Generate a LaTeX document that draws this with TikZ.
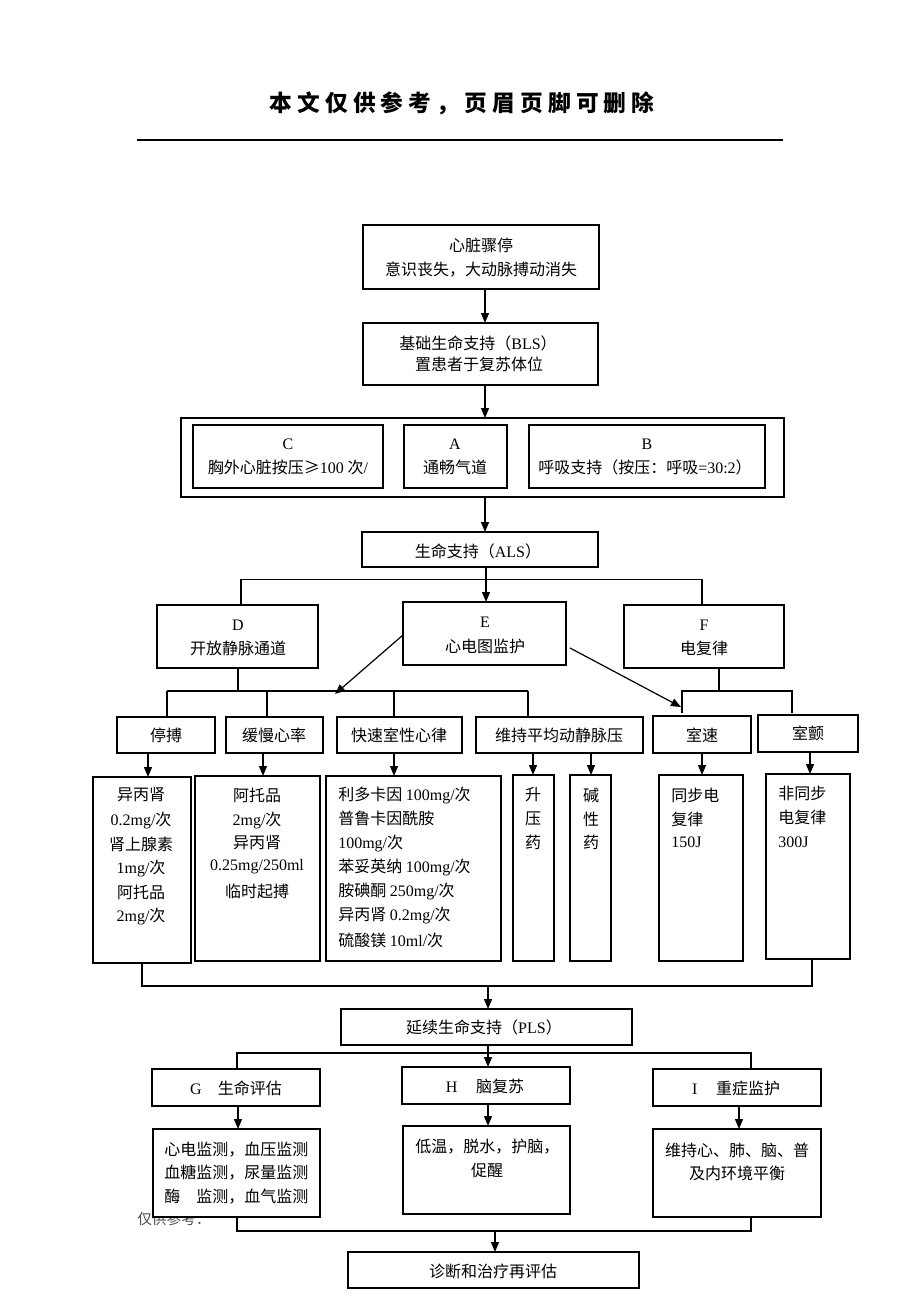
\documentclass[tikz,border=0pt]{standalone}
\usepackage{fontspec}
\setmainfont{Noto Sans CJK SC}
\newfontfamily\lat{Liberation Serif}
\newcommand\E[1]{{\lat #1}}
\usetikzlibrary{arrows.meta}
\tikzset{
 box/.style={draw, line width=0.9pt, fill=white, inner sep=0pt, outer sep=0pt},
 txt/.style={inner sep=0pt, font=\fontsize{12pt}{14pt}\selectfont},
 ltxt/.style={txt, anchor=west},
 ln/.style={line width=0.9pt},
 arr/.style={line width=0.9pt, -{Triangle[length=7.5pt,width=6pt]}},
}
\newcommand\mybox[5]{\node[box,minimum width={(#4-#2)*0.75pt},minimum height={(#5-#3)*0.75pt}] (#1) at ({(#2+#4)/2},{(#3+#5)/2}) {};}
\begin{document}
\begin{tikzpicture}[x=0.75pt,y=-0.75pt]
\useasboundingbox (0,0) rectangle (920,1302);
% header
\node[inner sep=0pt, font=\fontsize{17pt}{20pt}\selectfont\bfseries] (hdr) at (462,103) {\addfontfeature{LetterSpace=23}本文仅供参考，页眉页脚可删除};
\coordinate (rl) at (137,140); \coordinate (rr) at (783,140);
\draw[line width=1.1pt] (rl) -- (rr);
% top
\mybox{b1}{363}{225}{599}{289}
\node[txt] (b1a) at (481,245) {心脏骤停};
\node[txt] (b1b) at (481,270) {意识丧失，大动脉搏动消失};
\mybox{b2}{363}{323}{598}{385}
\node[txt] (b2a) at (478,343) {基础生命支持（\E{BLS}）};
\node[txt] (b2b) at (479,364) {置患者于复苏体位};
\coordinate (c485) at (485,0);
\draw[arr] (b1.south -| c485) -- (b2.north -| c485);
\mybox{o}{181}{418}{784}{497}
\draw[arr] (b2.south -| c485) -- (o.north -| c485);
\mybox{cb}{193}{425}{383}{488}
\node[txt] (cba) at (288,444) {\E{C}};
\node[txt] (cbb) at (288,467) {胸外心脏按压≥\E{100} 次\E{/}};
\mybox{ab}{404}{425}{507}{488}
\node[txt] (aba) at (455,444) {\E{A}};
\node[txt] (abb) at (455,467) {通畅气道};
\mybox{bb}{529}{425}{765}{488}
\node[txt] (bba) at (647,444) {\E{B}};
\node[txt] (bbb) at (645,467) {呼吸支持（按压：呼吸\E{=30:2}）};
\mybox{als}{362}{532}{598}{567}
\node[txt] (alst) at (478,551) {生命支持（\E{ALS}）};
\draw[arr] (o.south -| c485) -- (als.north -| c485);
% D E F
\mybox{d}{157}{605}{318}{668}
\node[txt] (da) at (238,625) {\E{D}};
\node[txt] (db) at (238,648) {开放静脉通道};
\mybox{e}{403}{602}{566}{665}
\node[txt] (ea1) at (485,622) {\E{E}};
\node[txt] (eb1) at (485,646) {心电图监护};
\mybox{f}{624}{605}{784}{668}
\node[txt] (fa) at (704,625) {\E{F}};
\node[txt] (fb1) at (704,648) {电复律};
\coordinate (c486) at (486,0);
\draw[arr] (als.south -| c486) -- (e.north -| c486);
\coordinate (busL) at (241,579.5); \coordinate (busR) at (702,579.5);
\draw[ln] (d.north -| busL) -- (busL) -- (busR) -- (f.north -| busR);
% row of conditions
\mybox{s1}{117}{717}{215}{753}
\node[txt] (s1t) at (166,735) {停搏};
\mybox{s2}{226}{717}{323}{753}
\node[txt] (s2t) at (274,735) {缓慢心率};
\mybox{s3}{337}{717}{462}{753}
\node[txt] (s3t) at (399,735) {快速室性心律};
\mybox{s4}{476}{717}{643}{753}
\node[txt] (s4t) at (559,735) {维持平均动静脉压};
\mybox{s5}{653}{716}{751}{753}
\node[txt] (s5t) at (702,735) {室速};
\mybox{s6}{758}{715}{858}{752}
\node[txt] (s6t) at (808,733) {室颤};
\coordinate (rd) at (238,691); \coordinate (r1) at (167,691); \coordinate (r2) at (528,691);
\coordinate (r267) at (267,691); \coordinate (r394) at (394,691);
\draw[ln] (d.south -| rd) -- (rd);
\draw[ln] (r1) -- (r2);
\draw[ln] (r1) -- (s1.north -| r1);
\draw[ln] (r267) -- (s2.north -| r267);
\draw[ln] (r394) -- (s3.north -| r394);
\draw[ln] (r2) -- (s4.north -| r2);
\coordinate (fbus) at (719,691); \coordinate (fl) at (682,691); \coordinate (fr) at (792,691);
\coordinate (fle) at (682,713); \coordinate (fre) at (792,713);
\draw[ln] (f.south -| fbus) -- (fbus);
\draw[ln] (fle) -- (fl) -- (fr) -- (fre);
\coordinate (eaS) at (403,635); \coordinate (eaT) at (335,694);
\draw[arr] (e.west |- eaS) -- (eaT);
\coordinate (ebS) at (570,648); \coordinate (ebT) at (681,707);
\draw[arr] (ebS) -- (ebT);
% drug boxes
\mybox{d1}{93}{777}{191}{963}
\mybox{d2}{195}{776}{320}{961}
\mybox{d3}{326}{776}{501}{961}
\mybox{d4}{513}{775}{554}{961}
\mybox{d5}{570}{775}{611}{961}
\mybox{d6}{659}{775}{743}{961}
\mybox{d7}{766}{774}{850}{959}
\node[txt] (d1a) at (141,795) {异丙肾};
\node[txt] (d1b) at (141,820) {\E{0.2mg/}次};
\node[txt] (d1c) at (141,844) {肾上腺素};
\node[txt] (d1d) at (141,868) {\E{1mg/}次};
\node[txt] (d1e) at (141,892) {阿托品};
\node[txt] (d1f) at (141,916) {\E{2mg/}次};
\node[txt] (d2a) at (257,795) {阿托品};
\node[txt] (d2b) at (257,820) {\E{2mg/}次};
\node[txt] (d2c) at (257,843) {异丙肾};
\node[txt] (d2d) at (257,867) {\E{0.25mg/250ml}};
\node[txt] (d2e) at (257,891) {临时起搏};
\node[ltxt] (d3a) at (338,795) {利多卡因 \E{100mg/}次};
\node[ltxt] (d3b) at (338,818) {普鲁卡因酰胺};
\node[ltxt] (d3c) at (338,843) {\E{100mg/}次};
\node[ltxt] (d3d) at (338,867) {苯妥英纳 \E{100mg/}次};
\node[ltxt] (d3e) at (338,891) {胺碘酮 \E{250mg/}次};
\node[ltxt] (d3f) at (338,915) {异丙肾 \E{0.2mg/}次};
\node[ltxt] (d3g) at (338,940) {硫酸镁 \E{10ml/}次};
\node[txt] (d4a) at (533,795) {升};
\node[txt] (d4b) at (533,819) {压};
\node[txt] (d4c) at (533,842) {药};
\node[txt] (d5a) at (591,795) {碱};
\node[txt] (d5b) at (591,819) {性};
\node[txt] (d5c) at (591,842) {药};
\node[ltxt] (d6a) at (671,795) {同步电};
\node[ltxt] (d6b) at (671,819) {复律};
\node[ltxt] (d6c) at (671,842) {\E{150J}};
\node[ltxt] (d7a) at (778,793) {非同步};
\node[ltxt] (d7b) at (778,817) {电复律};
\node[ltxt] (d7c) at (778,842) {\E{300J}};
\coordinate (x148) at (148,0); \coordinate (x263) at (263,0); \coordinate (x394) at (394,0);
\coordinate (x533) at (533,0); \coordinate (x591) at (591,0); \coordinate (x702) at (702,0);
\coordinate (x810) at (810,0);
\draw[arr] (s1.south -| x148) -- (d1.north -| x148);
\draw[arr] (s2.south -| x263) -- (d2.north -| x263);
\draw[arr] (s3.south -| x394) -- (d3.north -| x394);
\draw[arr] (s4.south -| x533) -- (d4.north -| x533);
\draw[arr] (s4.south -| x591) -- (d5.north -| x591);
\draw[arr] (s5.south -| x702) -- (d6.north -| x702);
\draw[arr] (s6.south -| x810) -- (d7.north -| x810);
% collector
\coordinate (k1) at (142,986); \coordinate (k2) at (812,986); \coordinate (k3) at (488,986);
\draw[ln] (d1.south -| k1) -- (k1) -- (k2) -- (d7.south -| k2);
\mybox{pls}{341}{1009}{632}{1045}
\node[txt] (plst) at (484,1027) {延续生命支持（\E{PLS}）};
\draw[arr] (k3) -- (pls.north -| k3);
% G H I
\mybox{g}{152}{1069}{320}{1106}
\node[txt] (gt) at (236,1088) {\E{G}\hspace{12pt}生命评估};
\mybox{h}{402}{1067}{570}{1104}
\node[txt] (ht) at (485,1086) {\E{H}\hspace{14pt}脑复苏};
\mybox{i}{653}{1069}{821}{1106}
\node[txt] (it) at (736,1088) {\E{I}\hspace{14pt}重症监护};
\coordinate (c488) at (488,0);
\draw[arr] (pls.south -| c488) -- (h.north -| c488);
\coordinate (p1) at (237,1053); \coordinate (p2) at (751,1053);
\draw[ln] (g.north -| p1) -- (p1) -- (p2) -- (i.north -| p2);
% footer text partly hidden
\node[inner sep=0pt, anchor=west, font=\fontsize{11pt}{13pt}\selectfont, text=black!70] (foot) at (137,1219) {仅供参考：};
% result boxes
\mybox{g2}{153}{1129}{320}{1217}
\node[ltxt] (g2a) at (164,1150) {心电监测，血压监测};
\node[ltxt] (g2b) at (164,1173) {血糖监测，尿量监测};
\node[ltxt] (g2c) at (164,1197) {酶\hspace{12pt}监测，血气监测};
\mybox{h2}{403}{1126}{570}{1214}
\node[ltxt] (h2a) at (415,1147) {低温，脱水，护脑，};
\node[txt] (h2b) at (487,1170) {促醒};
\mybox{i2}{653}{1129}{821}{1217}
\node[txt] (i2a) at (737,1150) {维持心、肺、脑、普};
\node[txt] (i2b) at (737,1173) {及内环境平衡};
\coordinate (x238) at (238,0); \coordinate (x739) at (739,0);
\draw[arr] (g.south -| x238) -- (g2.north -| x238);
\draw[arr] (h.south -| c488) -- (h2.north -| c488);
\draw[arr] (i.south -| x739) -- (i2.north -| x739);
\coordinate (m1) at (237,1231); \coordinate (m2) at (751,1231); \coordinate (m3) at (495,1231);
\draw[ln] (g2.south -| m1) -- (m1) -- (m2) -- (i2.south -| m2);
\mybox{fin}{348}{1252}{639}{1288}
\node[txt] (fint) at (493,1271) {诊断和治疗再评估};
\draw[arr] (m3) -- (fin.north -| m3);
\end{tikzpicture}
\end{document}
